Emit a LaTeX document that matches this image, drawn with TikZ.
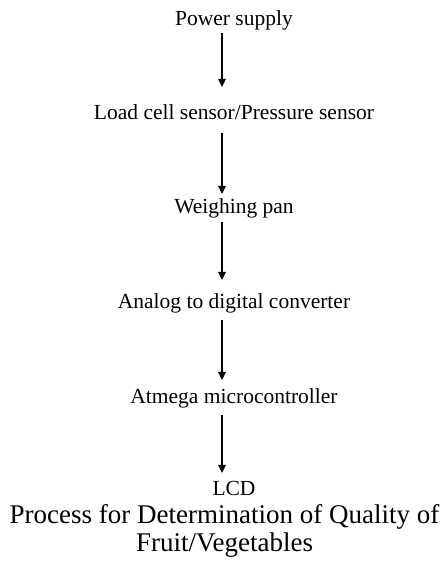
\documentclass[tikz,border=0pt]{standalone}
\usepackage{fontspec}
\setmainfont{Liberation Serif}
\usetikzlibrary{arrows.meta,calc}
\begin{document}
\begin{tikzpicture}[x=1pt,y=1pt,
  lbl/.style={anchor=base,inner sep=0pt,font=\fontsize{21.5}{24}\selectfont},
  captext/.style={anchor=base,inner sep=0pt,font=\fontsize{27}{30}\selectfont},
  arr/.style={line width=1.1pt,-{Triangle[length=8pt,width=7.5pt]}}]
\useasboundingbox (0,0) rectangle (447,565);
\fill[white] (0,0) rectangle (447,565);
\node[lbl] (p) at (234,539) {Power supply};
\node[lbl] (l) at (234,445) {Load cell sensor/Pressure sensor};
\node[lbl] (w) at (234,351) {Weighing pan};
\node[lbl] (a) at (234,256) {Analog to digital converter};
\node[lbl] (m) at (234,161) {Atmega microcontroller};
\node[lbl] (d) at (234,69) {LCD};
\node[captext] (c1) at (224.5,41) {Process for Determination of Quality of};
\node[captext] (c2) at (224.5,13) {Fruit/Vegetables};
\draw[arr] ($(p.base)+(-12,-7)$) -- ($(l.base)+(-12,33)$);
\draw[arr] ($(l.base)+(-12,-13)$) -- ($(w.base)+(-12,20)$);
\draw[arr] ($(w.base)+(-12,-8)$) -- ($(a.base)+(-12,29)$);
\draw[arr] ($(a.base)+(-12,-11)$) -- ($(m.base)+(-12,24)$);
\draw[arr] ($(m.base)+(-12,-11)$) -- ($(d.base)+(-12,23)$);
\end{tikzpicture}
\end{document}
